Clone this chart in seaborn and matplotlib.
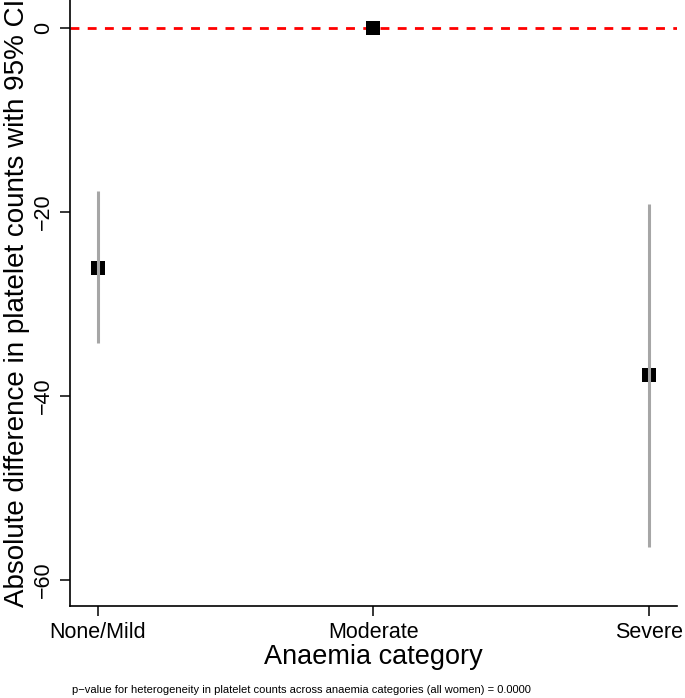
import numpy as np
import pandas as pd
import matplotlib
matplotlib.use("Agg")
import matplotlib.pyplot as plt
import seaborn as sns

# Data
categories = ["None/Mild", "Moderate", "Severe"]
estimate = [-26.1, 0.0, -37.7]
ci_lower = [-34.2, np.nan, -56.4]
ci_upper = [-17.7, np.nan, -19.2]
y_ticks = [0, -20, -40, -60]

footnote = ("p\u2212value for heterogeneity in platelet counts across anaemia "
            "categories (all women) = 0.0000")

df = pd.DataFrame({
    "category": categories,
    "estimate": estimate,
    "lower": ci_lower,
    "upper": ci_upper,
})

sns.set_theme(style="white")
plt.rcParams["font.family"] = ["Liberation Sans", "DejaVu Sans"]
plt.rcParams["axes.unicode_minus"] = True
for key in ["text.color", "axes.labelcolor", "xtick.color", "ytick.color"]:
    plt.rcParams[key] = "black"

fig = plt.figure(figsize=(6.85, 6.98), dpi=100)
ax = fig.add_axes([0.102, 0.132, 0.886, 0.868])

# point estimates first so the category order is fixed
sns.scatterplot(data=df, x="category", y="estimate", marker="s", s=115,
                color="black", edgecolor="black", linewidth=0, ax=ax, zorder=2)

# reference line at zero
ax.axhline(0, color="red", lw=2, dashes=(3.2, 3.0), zorder=1)

# confidence intervals (drawn over the markers, as in the original)
ci = df.dropna(subset=["lower", "upper"])
ax.vlines(ci["category"], ci["lower"], ci["upper"], color="#a6a6a6", lw=2.2, zorder=3)

ax.set_xlim(-0.101, 2.1)
ax.set_ylim(-62.8, 3.0)
ax.set_yticks(y_ticks)
ax.set_yticklabels([f"{v}".replace("-", "\u2212") for v in y_ticks],
                   rotation=90, va="center", fontsize=15.5)
ax.tick_params(axis="x", labelsize=15.5)
ax.tick_params(axis="both", direction="out", length=7.5, width=1.1,
               color="black", left=True, bottom=True, pad=4)

for side in ["top", "right"]:
    ax.spines[side].set_visible(False)
for side in ["left", "bottom"]:
    ax.spines[side].set_color("black")
    ax.spines[side].set_linewidth(1.2)

ax.set_xlabel("Anaemia category", fontsize=19.5, labelpad=1)
ax.set_ylabel("Absolute difference in platelet counts with 95% CI", fontsize=20,
              labelpad=2)

fig.text(0.44, 0.0115, footnote, ha="center", va="center", fontsize=8)

fig.savefig("out.png", dpi=100, facecolor="white")
